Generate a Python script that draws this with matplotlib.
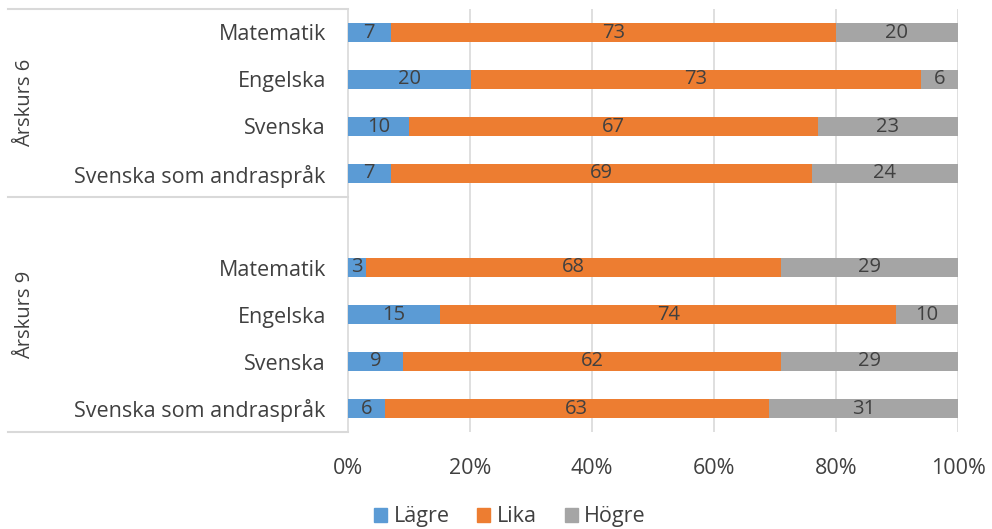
import matplotlib
matplotlib.use("Agg")
import matplotlib.pyplot as plt
from matplotlib.lines import Line2D
import numpy as np

plt.rcParams['font.family'] = ['Open Sans', 'DejaVu Sans']

subjects = ["Matematik", "Engelska", "Svenska", "Svenska som andraspråk"]
groups = ["Årskurs 6", "Årskurs 9"]
series = ["Lägre", "Lika", "Högre"]
colors = ["#5B9BD5", "#ED7D31", "#A5A5A5"]

lagre_6 = [7, 20, 10, 7]
lika_6 = [73, 73, 67, 69]
hogre_6 = [20, 6, 23, 24]
lagre_9 = [3, 15, 9, 6]
lika_9 = [68, 74, 62, 63]
hogre_9 = [29, 10, 29, 31]

xticklabels = ["0%", "20%", "40%", "60%", "80%", "100%"]

txt = "#404040"
grid = "#D9D9D9"
fs = 14.5
fl = 15.5

fig = plt.figure(figsize=(9.92, 5.29), dpi=100)
ax = fig.add_axes([348/992, 1-432/529, 610/992, (432-9)/529])

rows = []  # (ypos, label, values)
for i in range(4):
    rows.append((i, subjects[i], [lagre_6[i], lika_6[i], hogre_6[i]]))
for i in range(4):
    rows.append((5 + i, subjects[i], [lagre_9[i], lika_9[i], hogre_9[i]]))

for y, lab, vals in rows:
    tot = float(sum(vals))
    left = 0.0
    for k, v in enumerate(vals):
        w = v / tot
        ax.barh(y, w, left=left, height=0.39, color=colors[k], zorder=3)
        ax.text(left + w/2, y, str(v), ha='center', va='center', fontsize=fs, color=txt, zorder=4)
        left += w

ax.set_ylim(8.5, -0.5)
ax.set_xlim(0, 1)
ax.set_yticks([r[0] for r in rows])
ax.set_yticklabels([r[1] for r in rows], fontsize=fl, color=txt)
ax.set_xticks(np.linspace(0, 1, 6))
ax.set_xticklabels(xticklabels, fontsize=fl, color=txt)
ax.tick_params(axis='y', length=0, pad=16)
ax.tick_params(axis='x', length=0, pad=19)
for s in ax.spines.values():
    s.set_visible(False)
ax.spines['left'].set_visible(True)
ax.spines['left'].set_color(grid)
ax.spines['left'].set_linewidth(1.2)
for xv in np.linspace(0.2, 1, 5):
    ax.axvline(xv, color=grid, lw=1.2, zorder=1)

tr = ax.get_yaxis_transform()
xl = (8 - 348) / 610
for yv in [-0.5, 3.5, 8.5]:
    ax.add_line(Line2D([xl, 0], [yv, yv], transform=tr, color=grid, lw=1.5, clip_on=False))
gx = (25 - 348) / 610
ax.text(gx, 1.5, groups[0], transform=tr, rotation=90, ha='center', va='center', fontsize=fs, color=txt)
ax.text(gx, 6.0, groups[1], transform=tr, rotation=90, ha='center', va='center', fontsize=fs, color=txt)

handles = [plt.Rectangle((0, 0), 1, 1, color=c) for c in colors]
fig.legend(handles, series, loc='center', bbox_to_anchor=(0.514, 0.023), ncol=3, frameon=False,
           fontsize=fl, labelcolor=txt, handlelength=0.6, handleheight=0.6, handletextpad=0.3, columnspacing=1.3)

fig.savefig("out.png", dpi=100)
